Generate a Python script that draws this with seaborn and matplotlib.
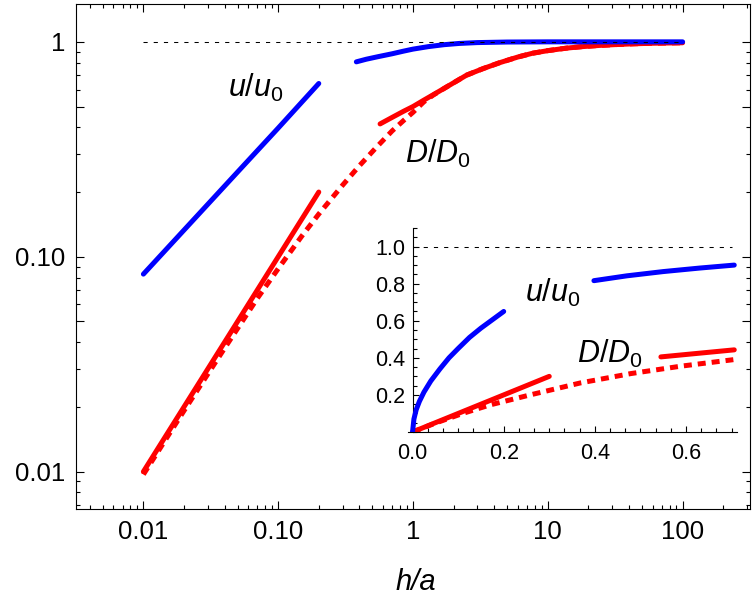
import numpy as np
import pandas as pd
import matplotlib
matplotlib.use("Agg")
import matplotlib.pyplot as plt
import seaborn as sns
from matplotlib.ticker import FixedLocator, FixedFormatter, LogLocator, NullFormatter, MultipleLocator

# ---------------- data ----------------
# main log-log panel
main_u1_x = [0.01, 0.02, 0.05, 0.1, 0.2]
main_u1_y = [0.083, 0.133, 0.248, 0.397, 0.64]
main_u2_x = [0.38, 0.45, 0.55, 0.7, 0.85, 1.0, 1.3, 1.7, 2.2, 3.0, 5.0, 10, 100]
main_u2_y = [0.807, 0.83, 0.853, 0.88, 0.905, 0.925, 0.95, 0.97, 0.983, 0.992, 0.998, 1.0, 1.0]
main_d1_x = [0.01, 0.05, 0.1, 0.2]
main_d1_y = [0.01, 0.05, 0.1, 0.2]
main_dd_x = [0.01, 0.02, 0.04, 0.07, 0.1, 0.15, 0.2, 0.3, 0.4, 0.54, 0.7, 0.85, 1.0,
             1.2, 1.41, 1.8, 2.5, 3.3, 4.4, 6.0, 7.7, 10, 13.8, 18, 24, 33, 43, 60, 100]
main_dd_y = [0.0097, 0.0192, 0.0375, 0.064, 0.088, 0.125, 0.158, 0.215, 0.265, 0.325, 0.385,
             0.43, 0.47, 0.525, 0.565, 0.62, 0.70, 0.75, 0.80, 0.85, 0.885, 0.91, 0.935,
             0.95, 0.962, 0.972, 0.979, 0.985, 0.99]
main_d2_x = [0.57, 0.7, 0.85, 1.0, 1.2, 1.41, 1.8, 2.5, 3.3, 4.4, 6.0, 7.7, 10, 13.8,
             18, 24, 33, 43, 60, 100]
main_d2_y = [0.415, 0.445, 0.475, 0.50, 0.535, 0.567, 0.62, 0.70, 0.75, 0.80, 0.85, 0.885,
             0.91, 0.935, 0.95, 0.962, 0.972, 0.979, 0.985, 0.99]
main_ref_x = [0.01, 100]
main_ref_y = [1.0, 1.0]

# inset linear panel
ins_u1_x = [0.0, 0.003, 0.008, 0.015, 0.025, 0.04, 0.06, 0.08, 0.1, 0.125, 0.15, 0.175, 0.2]
ins_u1_y = [0.0, 0.07, 0.12, 0.165, 0.215, 0.275, 0.34, 0.40, 0.45, 0.51, 0.56, 0.605, 0.65]
ins_u2_x = [0.398, 0.47, 0.55, 0.63, 0.706]
ins_u2_y = [0.816, 0.842, 0.865, 0.884, 0.90]
ins_d1_x = [0.0, 0.3]
ins_d1_y = [0.0, 0.3]
ins_dd_x = [0.0, 0.05, 0.11, 0.17, 0.258, 0.369, 0.479, 0.589, 0.704]
ins_dd_y = [0.0, 0.048, 0.10, 0.146, 0.2, 0.265, 0.315, 0.355, 0.39]
ins_d2_x = [0.545, 0.706]
ins_d2_y = [0.405, 0.443]
ins_ref_x = [0.0, 0.7]
ins_ref_y = [1.0, 1.0]

main_xticks = [0.01, 0.1, 1, 10, 100]
main_xlabels = ["0.01", "0.10", "1", "10", "100"]
main_yticks = [0.01, 0.05, 0.1, 0.5, 1]
main_ylabels = ["0.01", "", "0.10", "", "1"]
ins_xticks = [0.0, 0.2, 0.4, 0.6]
ins_xlabels = ["0.0", "0.2", "0.4", "0.6"]
ins_yticks = [0.2, 0.4, 0.6, 0.8, 1.0]
ins_ylabels = ["0.2", "0.4", "0.6", "0.8", "1.0"]

# ---------------- style ----------------
sns.set_style("ticks")
plt.rcParams["font.family"] = ["Liberation Sans", "DejaVu Sans"]
plt.rcParams["mathtext.fontset"] = "custom"
plt.rcParams["mathtext.it"] = "Liberation Sans:italic"
plt.rcParams["mathtext.rm"] = "Liberation Sans"
plt.rcParams["text.color"] = "black"
plt.rcParams["axes.labelcolor"] = "black"
plt.rcParams["xtick.color"] = "black"
plt.rcParams["ytick.color"] = "black"

BLUE = "#0000ff"
RED = "#ff0000"
LW = 3.6
DASH = (0, (1.6, 1.2))
DOT = (0, (4, 5.8))

fig = plt.figure(figsize=(7.56, 6.04), dpi=100)
W, H = 756, 604
ax = fig.add_axes([76 / W, 1 - 509 / H, (750 - 76) / W, (509 - 4) / H])
ax.set_xscale("log")
ax.set_yscale("log")


def line(a, x, y, color, ls="-", lw=LW, z=2):
    df = pd.DataFrame({"x": x, "y": y})
    sns.lineplot(data=df, x="x", y="y", ax=a, color=color, linewidth=lw,
                 linestyle=ls, sort=False, estimator=None, zorder=z)


line(ax, main_dd_x, main_dd_y, RED, DASH)
line(ax, main_d1_x, main_d1_y, RED)
line(ax, main_d2_x, main_d2_y, RED)
line(ax, main_u1_x, main_u1_y, BLUE, z=3)
line(ax, main_u2_x, main_u2_y, BLUE, z=3)
line(ax, main_ref_x, main_ref_y, "black", DOT, lw=0.75, z=4)

ax.set_xlim(10 ** -2.5, 10 ** 2.5)
ax.set_ylim(0.0067, 1.5)
ax.xaxis.set_major_locator(FixedLocator(main_xticks))
ax.xaxis.set_major_formatter(FixedFormatter(main_xlabels))
ax.xaxis.set_minor_locator(LogLocator(base=10, subs=np.arange(2, 10), numticks=20))
ax.xaxis.set_minor_formatter(NullFormatter())
ax.yaxis.set_major_locator(FixedLocator(main_yticks))
ax.yaxis.set_major_formatter(FixedFormatter(main_ylabels))
ax.yaxis.set_minor_locator(LogLocator(base=10, subs=np.arange(2, 10), numticks=20))
ax.yaxis.set_minor_formatter(NullFormatter())
ax.tick_params(which="both", direction="in", top=True, right=True, width=0.8,
               labelsize=18.5, pad=8, colors="black")
ax.tick_params(which="major", length=5.5)
ax.tick_params(which="minor", length=3)
for s in ax.spines.values():
    s.set_linewidth(0.8)
    s.set_color("black")
ax.set_ylabel("")
ax.set_xlabel("h/a", fontsize=21, style="italic", color="black")
ax.xaxis.set_label_coords((416 - 76) / 674, (509 - 590) / 505)
ax.xaxis.label.set_verticalalignment("baseline")

ax.text(0.0427, 0.555, r"$u/u_0$", fontsize=22, ha="left", va="baseline", color="black")
ax.text(0.873, 0.274, r"$D/D_0$", fontsize=22, ha="left", va="baseline", color="black")

# ---------------- inset ----------------
x0, x1 = -0.01, 0.712
ax2 = fig.add_axes([408 / W, 1 - 432 / H, (737 - 408) / W, (432 - 228) / H])
ax2.set_facecolor("none")
line(ax2, ins_dd_x, ins_dd_y, RED, DASH)
line(ax2, ins_d1_x, ins_d1_y, RED)
line(ax2, ins_d2_x, ins_d2_y, RED)
line(ax2, ins_u1_x, ins_u1_y, BLUE, z=3)
line(ax2, ins_u2_x, ins_u2_y, BLUE, z=3)
line(ax2, ins_ref_x, ins_ref_y, "black", DOT, lw=0.75, z=4)
ax2.set_xlim(x0, x1)
ax2.set_ylim(0, 1.1)
ax2.spines["top"].set_visible(False)
ax2.spines["right"].set_visible(False)
ax2.spines["left"].set_position(("data", 0))
for s in ("left", "bottom"):
    ax2.spines[s].set_linewidth(0.8)
    ax2.spines[s].set_color("black")
ax2.xaxis.set_major_locator(FixedLocator(ins_xticks))
ax2.xaxis.set_major_formatter(FixedFormatter(ins_xlabels))
ax2.xaxis.set_minor_locator(MultipleLocator(0.2 / 6))
ax2.yaxis.set_major_locator(FixedLocator(ins_yticks))
ax2.yaxis.set_major_formatter(FixedFormatter(ins_ylabels))
ax2.yaxis.set_minor_locator(MultipleLocator(0.05))
ax2.tick_params(which="both", direction="in", width=0.8, labelsize=15.5, colors="black")
ax2.tick_params(axis="x", pad=8)
ax2.tick_params(axis="y", pad=5)
ax2.tick_params(which="major", length=4.5)
ax2.tick_params(which="minor", length=3)
ax2.set_xlabel("")
ax2.set_ylabel("")
ax2.text(0.246, 0.70, r"$u/u_0$", fontsize=22, ha="left", va="baseline", color="black")
ax2.text(0.36, 0.373, r"$D/D_0$", fontsize=22, ha="left", va="baseline", color="black")

fig.savefig("out.png", dpi=100)
